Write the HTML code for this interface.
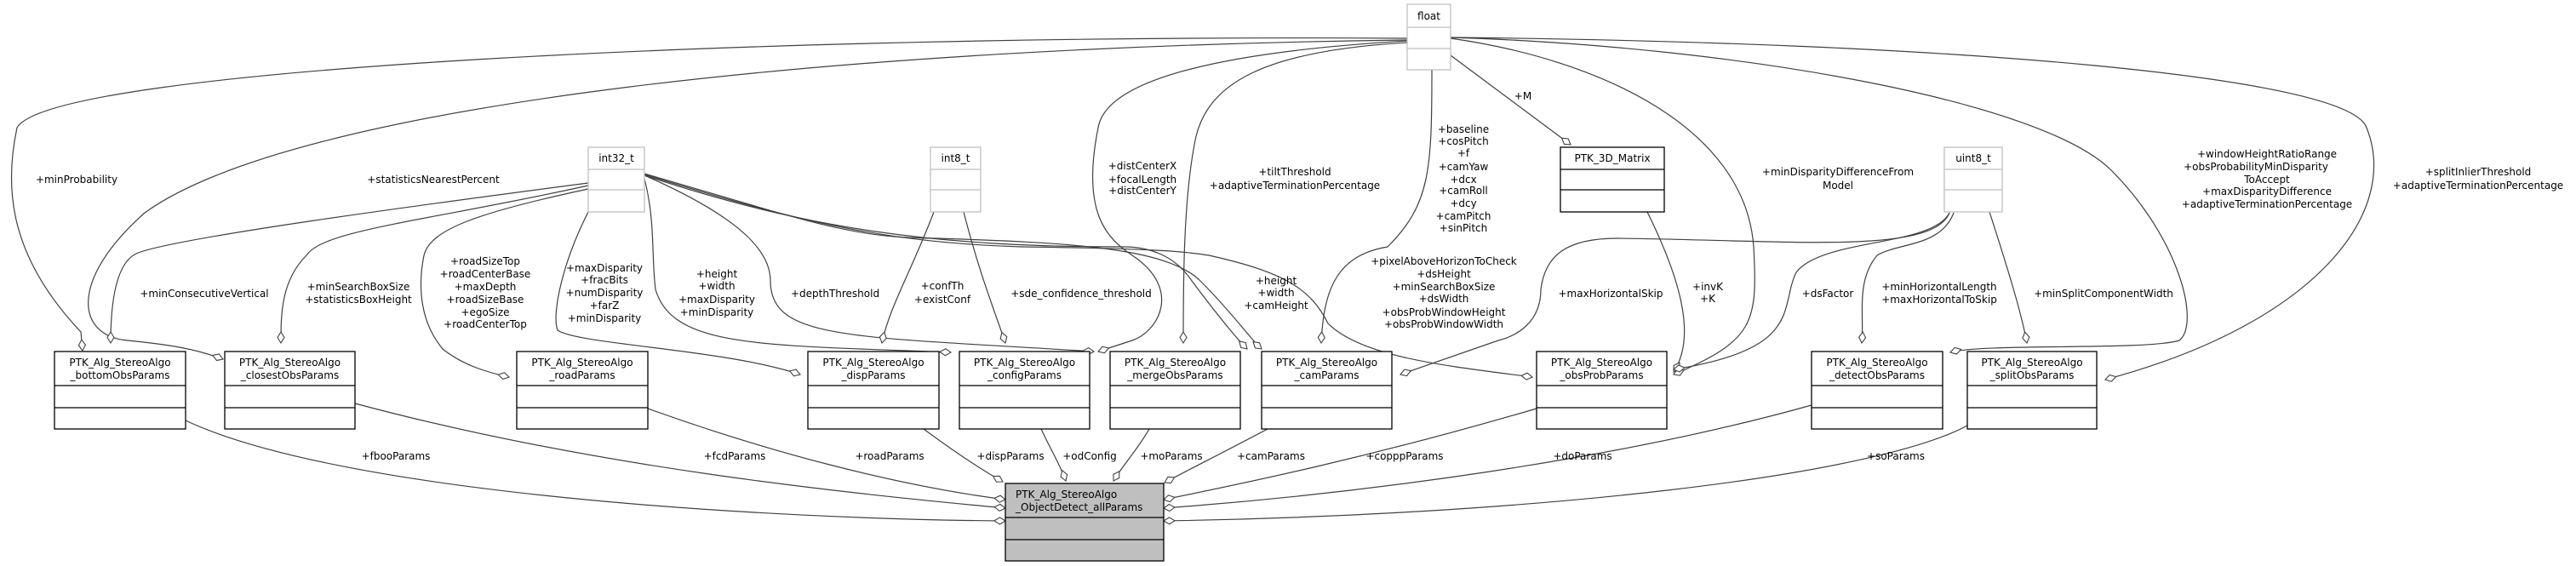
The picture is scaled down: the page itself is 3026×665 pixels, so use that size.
<!DOCTYPE html>
<html><head><meta charset="utf-8"><style>
html,body{margin:0;padding:0;background:#fff;}
svg{display:block;}
text{font-family:"DejaVu Sans","Liberation Sans",sans-serif;font-size:12px;fill:#000;}
.e{fill:none;stroke:#404040;stroke-width:1.2;marker-end:url(#d);}
.sb{fill:#fff;stroke:#000;stroke-width:1.3;}
.tb{fill:#fff;stroke:#bfbfbf;stroke-width:1.3;}
</style></head><body>
<svg width="3026" height="665" viewBox="0 0 3026 665" xmlns="http://www.w3.org/2000/svg">
<defs>
<marker id="d" markerUnits="userSpaceOnUse" markerWidth="16" markerHeight="10" refX="14" refY="5" orient="auto">
<path d="M1,5 L7.5,1 L14,5 L7.5,9 Z" fill="#fff" stroke="#404040" stroke-width="1.1"/>
</marker>
</defs>

<!-- edges from float -->
<path class="e" d="M1653,45 C900,40 60,80 20,150 C5,220 10,300 95,390 L97,412"/>
<path class="e" d="M1653,47 C1000,55 350,120 170,250 C80,330 90,395 150,400 C200,405 230,410 262,422"/>
<path class="e" d="M1653,48 C1450,60 1300,90 1290,150 C1270,250 1300,280 1330,300 C1390,340 1360,390 1330,400 L1290,413"/>
<path class="e" d="M1653,50 C1480,60 1420,100 1405,160 C1390,230 1390,330 1390,403"/>
<path class="e" d="M1682,82 C1682,200 1680,240 1630,290 C1570,300 1555,340 1552,403"/>
<path class="e" d="M1704,65 L1845,170"/>
<path class="e" d="M1704,45 C1880,70 2050,150 2060,290 C2065,380 2060,400 1966,440"/>
<path class="e" d="M1704,44 C2050,55 2400,120 2480,200 C2560,280 2585,380 2560,400 C2520,412 2330,403 2291,414"/>
<path class="e" d="M1704,44 C2300,50 2760,90 2780,150 C2820,250 2720,380 2473,446"/>

<!-- edges from int32_t -->
<path class="e" d="M691,215 C500,240 200,280 160,298 C135,310 130,360 130,403"/>
<path class="e" d="M691,218 C500,260 380,270 360,300 C330,330 330,370 330,403"/>
<path class="e" d="M691,222 C560,250 505,270 498,300 C490,340 495,380 520,410 C545,430 575,438 598,443"/>
<path class="e" d="M691,249 C660,310 648,370 655,388 C680,405 850,410 940,440"/>
<path class="e" d="M757,210 C770,260 765,300 770,340 C790,410 900,405 1117,414"/>
<path class="e" d="M757,206 C880,260 905,300 905,330 C905,400 1000,395 1285,413"/>
<path class="e" d="M757,204 C950,260 1000,280 1100,280 C1250,285 1370,290 1410,330 C1450,370 1470,400 1482,410"/>
<path class="e" d="M757,205 C950,265 1050,285 1200,290 C1350,292 1390,295 1420,300 C1510,320 1540,340 1560,380 C1600,420 1700,430 1800,443"/>
<path class="e" d="M757,206 C950,270 1100,290 1320,290 C1350,290 1380,300 1400,330 C1430,370 1450,395 1465,410"/>

<!-- int8_t -->
<path class="e" d="M1097,249 C1070,320 1045,360 1036,403"/>
<path class="e" d="M1132,249 C1150,320 1170,370 1181,403"/>

<!-- PTK_3D_Matrix -->
<path class="e" d="M1935,249 C1980,340 1990,400 1966,437"/>

<!-- uint8_t -->
<path class="e" d="M2290,250 C2270,300 2100,282 1900,280 C1840,280 1815,300 1810,340 C1810,380 1780,395 1760,400 L1645,440"/>
<path class="e" d="M2290,250 C2270,290 2140,280 2110,320 C2090,360 2120,410 1966,434"/>
<path class="e" d="M2295,250 C2280,290 2230,285 2205,300 C2180,330 2190,370 2187,403"/>
<path class="e" d="M2337,249 C2360,320 2375,370 2381,403"/>

<!-- bottom edges to main box -->
<path class="e" d="M218,494 C400,580 900,610 1181,612"/>
<path class="e" d="M417,474 C700,550 1000,580 1181,597"/>
<path class="e" d="M761,480 C900,530 1050,570 1181,587"/>
<path class="e" d="M1085,504 C1120,530 1150,550 1178,566"/>
<path class="e" d="M1223,504 C1235,530 1245,545 1252,565"/>
<path class="e" d="M1350,504 C1335,530 1320,545 1308,565"/>
<path class="e" d="M1489,504 C1440,530 1400,550 1368,567"/>
<path class="e" d="M1805,480 C1600,540 1450,570 1367,587"/>
<path class="e" d="M2128,476 C1900,540 1600,580 1367,597"/>
<path class="e" d="M2311,500 C2200,560 1800,605 1367,612"/>

<!-- type boxes -->
<g>
<rect class="tb" x="1653" y="5" width="51" height="77"/>
<line x1="1653" y1="32" x2="1704" y2="32" stroke="#bfbfbf" stroke-width="1.3"/>
<line x1="1653" y1="57" x2="1704" y2="57" stroke="#bfbfbf" stroke-width="1.3"/>
<text x="1678.5" y="23" text-anchor="middle">float</text>

<rect class="tb" x="691" y="173" width="66" height="76"/>
<line x1="691" y1="199" x2="757" y2="199" stroke="#bfbfbf" stroke-width="1.3"/>
<line x1="691" y1="223" x2="757" y2="223" stroke="#bfbfbf" stroke-width="1.3"/>
<text x="724" y="190" text-anchor="middle">int32_t</text>

<rect class="tb" x="1093" y="173" width="59" height="76"/>
<line x1="1093" y1="199" x2="1152" y2="199" stroke="#bfbfbf" stroke-width="1.3"/>
<line x1="1093" y1="223" x2="1152" y2="223" stroke="#bfbfbf" stroke-width="1.3"/>
<text x="1122.5" y="190" text-anchor="middle">int8_t</text>

<rect class="tb" x="2284" y="173" width="68" height="76"/>
<line x1="2284" y1="199" x2="2352" y2="199" stroke="#bfbfbf" stroke-width="1.3"/>
<line x1="2284" y1="223" x2="2352" y2="223" stroke="#bfbfbf" stroke-width="1.3"/>
<text x="2318" y="190" text-anchor="middle">uint8_t</text>

<rect class="sb" x="1833" y="173" width="122" height="76"/>
<line x1="1833" y1="199" x2="1955" y2="199" stroke="#000" stroke-width="1.3"/>
<line x1="1833" y1="223" x2="1955" y2="223" stroke="#000" stroke-width="1.3"/>
<text x="1894" y="190" text-anchor="middle">PTK_3D_Matrix</text>
</g>

<!-- struct boxes -->
<g>
<rect class="sb" x="64" y="413" width="154" height="91"/><line x1="64" y1="453" x2="218" y2="453" stroke="#000" stroke-width="1.3"/><line x1="64" y1="479" x2="218" y2="479" stroke="#000" stroke-width="1.3"/>
<text x="141" y="430" text-anchor="middle">PTK_Alg_StereoAlgo</text><text x="141" y="445" text-anchor="middle">_bottomObsParams</text>

<rect class="sb" x="264" y="413" width="153" height="91"/><line x1="264" y1="453" x2="417" y2="453" stroke="#000" stroke-width="1.3"/><line x1="264" y1="479" x2="417" y2="479" stroke="#000" stroke-width="1.3"/>
<text x="340.5" y="430" text-anchor="middle">PTK_Alg_StereoAlgo</text><text x="340.5" y="445" text-anchor="middle">_closestObsParams</text>

<rect class="sb" x="607" y="413" width="154" height="91"/><line x1="607" y1="453" x2="761" y2="453" stroke="#000" stroke-width="1.3"/><line x1="607" y1="479" x2="761" y2="479" stroke="#000" stroke-width="1.3"/>
<text x="684" y="430" text-anchor="middle">PTK_Alg_StereoAlgo</text><text x="684" y="445" text-anchor="middle">_roadParams</text>

<rect class="sb" x="949" y="413" width="154" height="91"/><line x1="949" y1="453" x2="1103" y2="453" stroke="#000" stroke-width="1.3"/><line x1="949" y1="479" x2="1103" y2="479" stroke="#000" stroke-width="1.3"/>
<text x="1026" y="430" text-anchor="middle">PTK_Alg_StereoAlgo</text><text x="1026" y="445" text-anchor="middle">_dispParams</text>

<rect class="sb" x="1127" y="413" width="153" height="91"/><line x1="1127" y1="453" x2="1280" y2="453" stroke="#000" stroke-width="1.3"/><line x1="1127" y1="479" x2="1280" y2="479" stroke="#000" stroke-width="1.3"/>
<text x="1203.5" y="430" text-anchor="middle">PTK_Alg_StereoAlgo</text><text x="1203.5" y="445" text-anchor="middle">_configParams</text>

<rect class="sb" x="1304" y="413" width="153" height="91"/><line x1="1304" y1="453" x2="1457" y2="453" stroke="#000" stroke-width="1.3"/><line x1="1304" y1="479" x2="1457" y2="479" stroke="#000" stroke-width="1.3"/>
<text x="1380.5" y="430" text-anchor="middle">PTK_Alg_StereoAlgo</text><text x="1380.5" y="445" text-anchor="middle">_mergeObsParams</text>

<rect class="sb" x="1482" y="413" width="153" height="91"/><line x1="1482" y1="453" x2="1635" y2="453" stroke="#000" stroke-width="1.3"/><line x1="1482" y1="479" x2="1635" y2="479" stroke="#000" stroke-width="1.3"/>
<text x="1558.5" y="430" text-anchor="middle">PTK_Alg_StereoAlgo</text><text x="1558.5" y="445" text-anchor="middle">_camParams</text>

<rect class="sb" x="1805" y="413" width="153" height="91"/><line x1="1805" y1="453" x2="1958" y2="453" stroke="#000" stroke-width="1.3"/><line x1="1805" y1="479" x2="1958" y2="479" stroke="#000" stroke-width="1.3"/>
<text x="1881.5" y="430" text-anchor="middle">PTK_Alg_StereoAlgo</text><text x="1881.5" y="445" text-anchor="middle">_obsProbParams</text>

<rect class="sb" x="2128" y="413" width="154" height="91"/><line x1="2128" y1="453" x2="2282" y2="453" stroke="#000" stroke-width="1.3"/><line x1="2128" y1="479" x2="2282" y2="479" stroke="#000" stroke-width="1.3"/>
<text x="2205" y="430" text-anchor="middle">PTK_Alg_StereoAlgo</text><text x="2205" y="445" text-anchor="middle">_detectObsParams</text>

<rect class="sb" x="2311" y="413" width="152" height="91"/><line x1="2311" y1="453" x2="2463" y2="453" stroke="#000" stroke-width="1.3"/><line x1="2311" y1="479" x2="2463" y2="479" stroke="#000" stroke-width="1.3"/>
<text x="2387" y="430" text-anchor="middle">PTK_Alg_StereoAlgo</text><text x="2387" y="445" text-anchor="middle">_splitObsParams</text>

<rect x="1181" y="568" width="186" height="91" fill="#bfbfbf" stroke="#000" stroke-width="1.3"/>
<line x1="1181" y1="608" x2="1367" y2="608" stroke="#000" stroke-width="1.3"/><line x1="1181" y1="634" x2="1367" y2="634" stroke="#000" stroke-width="1.3"/>
<text x="1193" y="585">PTK_Alg_StereoAlgo</text><text x="1193" y="600">_ObjectDetect_allParams</text>
</g>

<!-- labels -->
<g text-anchor="middle">
<text x="90" y="215">+minProbability</text>
<text x="509" y="215">+statisticsNearestPercent</text>
<text x="240" y="349">+minConsecutiveVertical</text>
<text x="421" y="341">+minSearchBoxSize</text><text x="421" y="356">+statisticsBoxHeight</text>
<text x="570" y="311">+roadSizeTop</text><text x="570" y="326">+roadCenterBase</text><text x="570" y="341">+maxDepth</text><text x="570" y="356">+roadSizeBase</text><text x="570" y="371">+egoSize</text><text x="570" y="385">+roadCenterTop</text>
<text x="710" y="319">+maxDisparity</text><text x="710" y="333">+fracBits</text><text x="710" y="348">+numDisparity</text><text x="710" y="363">+farZ</text><text x="710" y="378">+minDisparity</text>
<text x="842" y="326">+height</text><text x="842" y="340">+width</text><text x="842" y="356">+maxDisparity</text><text x="842" y="371">+minDisparity</text>
<text x="981" y="349">+depthThreshold</text>
<text x="1107" y="340">+confTh</text><text x="1107" y="356">+existConf</text>
<text x="1270" y="349">+sde_confidence_threshold</text>
<text x="1342" y="199">+distCenterX</text><text x="1342" y="215">+focalLength</text><text x="1342" y="228">+distCenterY</text>
<text x="1521" y="206">+tiltThreshold</text><text x="1521" y="222">+adaptiveTerminationPercentage</text>
<text x="1499" y="334">+height</text><text x="1499" y="348">+width</text><text x="1499" y="363">+camHeight</text>
<text x="1719" y="156">+baseline</text><text x="1719" y="170">+cosPitch</text><text x="1719" y="184">+f</text><text x="1719" y="200">+camYaw</text><text x="1719" y="215">+dcx</text><text x="1719" y="228">+camRoll</text><text x="1719" y="243">+dcy</text><text x="1719" y="258">+camPitch</text><text x="1719" y="272">+sinPitch</text>
<text x="1696" y="311">+pixelAboveHorizonToCheck</text><text x="1696" y="326">+dsHeight</text><text x="1696" y="341">+minSearchBoxSize</text><text x="1696" y="355">+dsWidth</text><text x="1696" y="371">+obsProbWindowHeight</text><text x="1696" y="385">+obsProbWindowWidth</text>
<text x="1789" y="117">+M</text>
<text x="1892" y="349">+maxHorizontalSkip</text>
<text x="2006" y="341">+invK</text><text x="2006" y="355">+K</text>
<text x="2147" y="349">+dsFactor</text>
<text x="2159" y="206">+minDisparityDifferenceFrom</text><text x="2159" y="222">Model</text>
<text x="2278" y="341">+minHorizontalLength</text><text x="2278" y="356">+maxHorizontalToSkip</text>
<text x="2471" y="349">+minSplitComponentWidth</text>
<text x="2663" y="185">+windowHeightRatioRange</text><text x="2650" y="200">+obsProbabilityMinDisparity</text><text x="2663" y="215">ToAccept</text><text x="2663" y="229">+maxDisparityDifference</text><text x="2663" y="244">+adaptiveTerminationPercentage</text>
<text x="2911" y="206">+splitInlierThreshold</text><text x="2911" y="222">+adaptiveTerminationPercentage</text>
<text x="465" y="540">+fbooParams</text>
<text x="863" y="540">+fcdParams</text>
<text x="1045" y="540">+roadParams</text>
<text x="1187" y="540">+dispParams</text>
<text x="1280" y="540">+odConfig</text>
<text x="1376" y="540">+moParams</text>
<text x="1493" y="540">+camParams</text>
<text x="1650" y="540">+copppParams</text>
<text x="1859" y="540">+doParams</text>
<text x="2227" y="540">+soParams</text>
</g>
</svg>
</body></html>
